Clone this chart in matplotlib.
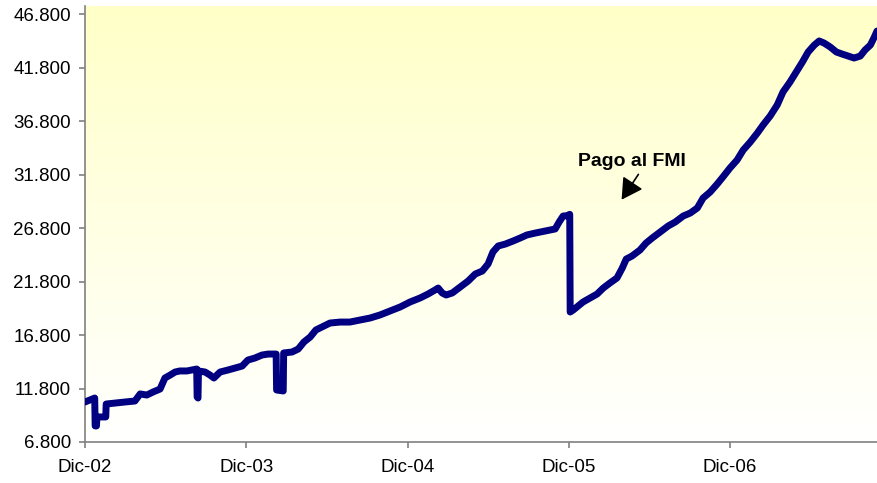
import matplotlib
matplotlib.use("Agg")
import matplotlib.pyplot as plt
import numpy as np
import pandas as pd
from matplotlib.ticker import FuncFormatter

plt.rcParams['font.family'] = ['Liberation Sans', 'DejaVu Sans']

# ---- data (reserves, millions USD) ----
dates = [
    "2002-12-31", "2003-01-11", "2003-01-22", "2003-01-23", "2003-01-26", "2003-01-27",
    "2003-02-16", "2003-02-17", "2003-03-09", "2003-04-01", "2003-04-23", "2003-05-05",
    "2003-05-20", "2003-06-03", "2003-06-19", "2003-06-30", "2003-07-12", "2003-07-23",
    "2003-08-03", "2003-08-19", "2003-09-10", "2003-09-11", "2003-09-13", "2003-09-14",
    "2003-09-29", "2003-10-10", "2003-10-19", "2003-11-02", "2003-11-20", "2003-12-06",
    "2003-12-22", "2004-01-04", "2004-01-20", "2004-02-05", "2004-02-19", "2004-03-08",
    "2004-03-09", "2004-03-24", "2004-03-25", "2004-04-13", "2004-04-27", "2004-05-10",
    "2004-05-24", "2004-06-06", "2004-06-20", "2004-07-08", "2004-07-31", "2004-08-22",
    "2004-09-14", "2004-10-07", "2004-10-29", "2004-11-21", "2004-12-14", "2005-01-05",
    "2005-01-28", "2005-02-15", "2005-03-03", "2005-03-10", "2005-03-19", "2005-03-28",
    "2005-04-11", "2005-04-29", "2005-05-17", "2005-06-02", "2005-06-18", "2005-07-01",
    "2005-07-12", "2005-07-24", "2005-08-09", "2005-08-27", "2005-09-12", "2005-09-27",
    "2005-10-16", "2005-11-07", "2005-11-30", "2005-12-09", "2005-12-18", "2005-12-27",
    "2006-01-02", "2006-01-03", "2006-01-10", "2006-01-21", "2006-02-01", "2006-02-17",
    "2006-03-05", "2006-03-19", "2006-04-03", "2006-04-19", "2006-05-01", "2006-05-10",
    "2006-05-23", "2006-06-10", "2006-06-24", "2006-07-08", "2006-07-26", "2006-08-13",
    "2006-08-29", "2006-09-16", "2006-10-02", "2006-10-18", "2006-10-31", "2006-11-16",
    "2006-12-02", "2006-12-15", "2006-12-31", "2007-01-16", "2007-01-30", "2007-02-15",
    "2007-03-03", "2007-03-16", "2007-04-01", "2007-04-17", "2007-04-30", "2007-05-16",
    "2007-05-30", "2007-06-13", "2007-06-26", "2007-07-10", "2007-07-21", "2007-08-01",
    "2007-08-15", "2007-08-29", "2007-09-11", "2007-09-25", "2007-10-08", "2007-10-22",
    "2007-11-02", "2007-11-14", "2007-11-23", "2007-11-29",
]
reserves = [
    10540, 10730, 10910, 8300, 8300, 9140,
    9140, 10350, 10440, 10540, 10630, 11290,
    11190, 11470, 11750, 12780, 13060, 13340,
    13440, 13440, 13620, 11010, 10910, 13440,
    13340, 13060, 12780, 13340, 13530, 13720,
    13900, 14460, 14650, 14930, 15020, 15020,
    11660, 11570, 15120, 15210, 15490, 16150,
    16610, 17270, 17550, 17920, 18010, 18010,
    18200, 18390, 18670, 19040, 19420, 19880,
    20260, 20630, 21010, 21190, 20730, 20540,
    20730, 21290, 21850, 22500, 22780, 23440,
    24560, 25120, 25300, 25590, 25870, 26150,
    26330, 26520, 26710, 27360, 27920, 27950,
    28080, 18950, 19140, 19510, 19880, 20260,
    20630, 21190, 21660, 22130, 23060, 23900,
    24180, 24740, 25400, 25870, 26430, 26990,
    27360, 27920, 28200, 28670, 29600, 30160,
    30910, 31570, 32410, 33150, 34090, 34840,
    35680, 36430, 37270, 38300, 39510, 40450,
    41380, 42310, 43250, 43900, 44280, 44090,
    43720, 43250, 43060, 42870, 42690, 42870,
    43440, 43900, 44650, 45210,
]
tick_dates = ["2002-12-31", "2003-12-31", "2004-12-31", "2005-12-31", "2006-12-31"]
tick_labels = ["Dic-02", "Dic-03", "Dic-04", "Dic-05", "Dic-06"]
y_ticks = [6800, 11800, 16800, 21800, 26800, 31800, 36800, 41800, 46800]
annot_text = "Pago al FMI"
annot_text_pos = ("2006-05-23", 33060)
annot_tail = ("2006-06-10", 32030)
annot_tip = ("2006-04-26", 29230)

x = pd.to_datetime(dates)

fig = plt.figure(figsize=(8.77, 4.83), dpi=100)
ax = fig.add_axes([85/877, 1 - 442/483, 1 - 85/877, 436/483])

# gradient background
grad = np.linspace(0, 1, 256).reshape(-1, 1)
top = np.array([255, 255, 200]) / 255.0
bot = np.array([255, 255, 255]) / 255.0
img = top[None, None, :] * (1 - grad[:, :, None]) + bot[None, None, :] * grad[:, :, None]
ax.imshow(img, extent=[0, 1, 0, 1], transform=ax.transAxes, aspect='auto', zorder=0)

ax.plot(x, reserves, color='#000080', lw=5, solid_joinstyle='round',
        solid_capstyle='round', zorder=3)

ax.set_xlim(pd.Timestamp("2002-12-31"), pd.Timestamp("2007-11-29"))
ax.set_ylim(6800, 47550)

ax.set_xticks(pd.to_datetime(tick_dates))
ax.set_xticklabels(tick_labels)
ax.set_yticks(y_ticks)
ax.yaxis.set_major_formatter(FuncFormatter(lambda v, p: f"{int(v):,}".replace(",", ".")))

for s in ['top', 'right']:
    ax.spines[s].set_visible(False)
for s in ['left', 'bottom']:
    ax.spines[s].set_color('#808080')
    ax.spines[s].set_linewidth(1.2)

ax.tick_params(axis='both', colors='#808080', labelcolor='black', labelsize=13.5,
               length=4, width=1.2, direction='out')
ax.tick_params(axis='x', pad=8)
ax.tick_params(axis='y', pad=6)

ax.text(pd.Timestamp(annot_text_pos[0]), annot_text_pos[1], annot_text,
        fontsize=14, fontweight='bold', ha='center', va='center', zorder=5)
ax.annotate('', xy=(pd.Timestamp(annot_tip[0]), annot_tip[1]),
            xytext=(pd.Timestamp(annot_tail[0]), annot_tail[1]),
            arrowprops=dict(arrowstyle='-|>,head_length=0.8,head_width=0.45',
                            color='black', lw=1.2, mutation_scale=16), zorder=5)

fig.savefig("out.png", dpi=100)
